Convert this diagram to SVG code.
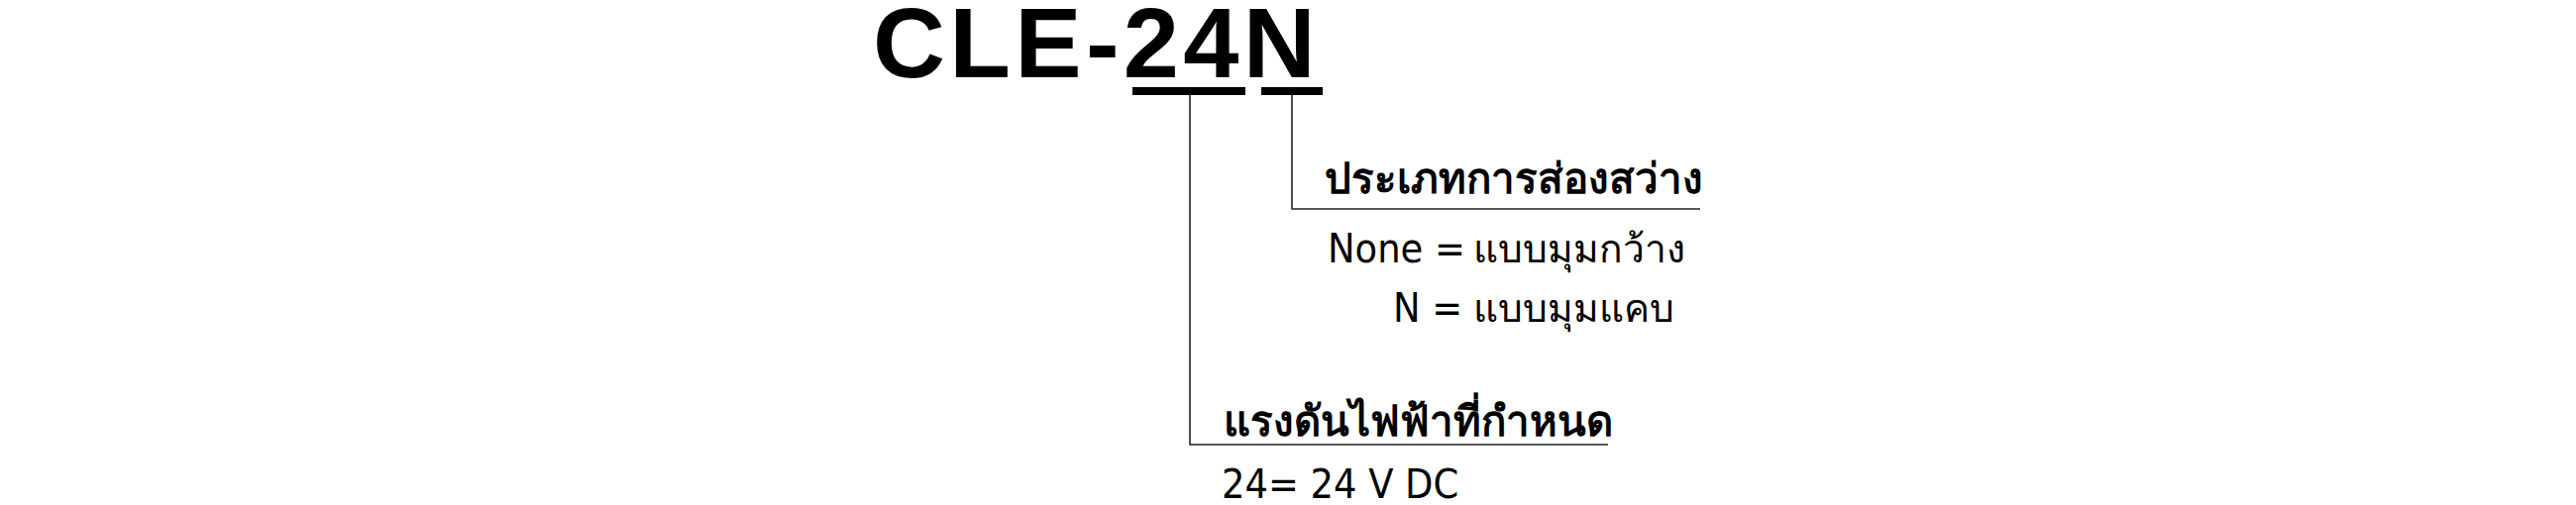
<svg xmlns="http://www.w3.org/2000/svg" width="2600" height="510" viewBox="0 0 2600 510">
<style>
.title{font-family:"Liberation Sans",Arial,sans-serif;font-weight:bold;font-size:101px;letter-spacing:4.3px;fill:#000}
.head{font-family:"DejaVu Sans","Noto Sans",sans-serif;font-weight:bold;font-size:42px;fill:#000}
.body{font-family:"DejaVu Sans","Noto Sans",sans-serif;font-stretch:condensed;font-size:41px;fill:#000}
.th{font-size:39px}
.conn{fill:none;stroke:#222;stroke-width:1.6}
.bar{fill:#000}
</style>
<rect width="2600" height="510" fill="#fff"/>
<g id="title">
<text class="title" x="881" y="78">CLE-24N</text>
<rect class="bar" x="1143" y="88" width="114" height="8"/>
<rect class="bar" x="1273" y="88" width="62" height="8"/>
</g>
<g id="connectors">
<path class="conn" d="M1201,96 V449 H1623"/>
<path class="conn" d="M1304,96 V211 H1716"/>
</g>
<g id="node-lighting">
<text class="head" x="1337" y="195">ประเภทการส่องสว่าง</text>
<text class="body" x="1340" y="265">None =<tspan class="th" x="1487">แบบมุมกว้าง</tspan></text>
<text class="body" x="1406" y="325">N =<tspan class="th" x="1487">แบบมุมแคบ</tspan></text>
</g>
<g id="node-voltage">
<text class="head" x="1235" y="440">แรงดันไฟฟ้าที่กำหนด</text>
<text class="body" x="1233" y="503">24= 24 V DC</text>
</g>
</svg>
